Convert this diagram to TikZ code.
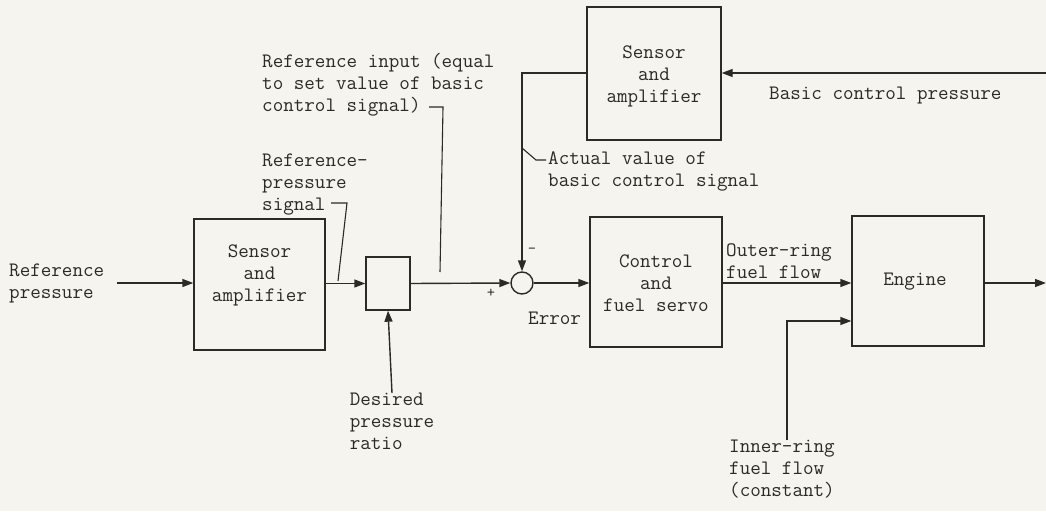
\documentclass[tikz,border=0pt]{standalone}
\usetikzlibrary{arrows.meta}
\definecolor{paper}{RGB}{246,244,238}
\definecolor{ink}{RGB}{45,42,38}
\tikzset{
  txt/.style={font=\ttfamily\fontsize{20.5}{22}\selectfont, inner sep=0pt, align=left, text=ink},
  ctxt/.style={font=\ttfamily\fontsize{20.5}{22}\selectfont, inner sep=0pt, align=center, text=ink},
  blk/.style={draw=ink, line width=1.4pt, inner sep=0pt},
  sig/.style={draw=ink, line width=1.4pt, -{Triangle[length=11pt,width=8pt]}},
  lead/.style={draw=ink, line width=1.1pt},
}
\begin{document}
\begin{tikzpicture}[x=1pt,y=-1pt]
\fill[paper] (0,0) rectangle (1046,511);
\useasboundingbox (0,0) rectangle (1046,511);
% blocks
\node[blk, minimum width=131pt, minimum height=131pt] (sa1) at (259.5,284.5) {};
\node[ctxt] at (259.5,275) {Sensor\\and\\amplifier};
\node[blk, minimum width=44pt, minimum height=53pt] (sm) at (388,283.5) {};
\node[blk, circle, minimum size=22pt] (sum) at (522,283) {};
\node[blk, minimum width=134pt, minimum height=133pt] (sa2) at (654,73.5) {};
\node[ctxt] at (654,76) {Sensor\\and\\amplifier};
\node[blk, minimum width=132pt, minimum height=130pt] (ctrl) at (656,282) {};
\node[ctxt] at (656,283) {Control\\and\\fuel servo};
\node[blk, minimum width=132pt, minimum height=130pt] (eng) at (918,281) {};
\node[ctxt] at (915,282) {Engine};
% texts
\node[txt, anchor=west] (refp) at (9,283) {Reference\\pressure};
\node[txt, anchor=north] (des) at (392,393) {Desired\\pressure\\ratio};
\node[txt, anchor=north west] (inner) at (729,440) {Inner-ring\\fuel flow\\(constant)};
\node[txt, anchor=west] (bcp) at (769,96) {Basic control pressure};
\node[txt, anchor=west] (rps) at (262,185) {Reference-\\pressure\\signal};
\node[txt, anchor=west] (rin) at (262,85) {Reference input (equal\\to set value of basic\\control signal)};
\node[txt, anchor=west] (act) at (548,171) {Actual value of\\basic control signal};
\node[txt, anchor=south west] (orf) at (726,279) {Outer-ring\\fuel flow};
\node[txt, anchor=west] (err) at (528,318) {Error};
\node[font=\ttfamily\fontsize{16}{16}\selectfont, inner sep=0pt, text=ink] (plus) at (491,293) {+};
\node[font=\ttfamily\fontsize{16}{16}\selectfont, inner sep=0pt, text=ink] (minus) at (532,251) {-};
% coordinates
\coordinate (cin) at (1046,73);
\coordinate (cout) at (1046,283);
\coordinate (fbk) at (522,73);
\coordinate (ifc) at (787,321);
\coordinate (rin0) at (117,283);
% signal paths
\draw[sig] (rin0) -- (sa1.west |- rin0);
\draw[sig] (sa1.east |- sm.west) -- (sm.west);
\draw[sig] (sm.east) -- (sum.west);
\draw[sig] (des.north) -- (sm.south);
\draw[sig] (sum.east) -- (ctrl.west |- sum.east);
\draw[sig] (ctrl.east |- sum.east) -- (eng.west |- sum.east);
\draw[sig] (inner.north -| ifc) -- (ifc) -- (eng.west |- ifc);
\draw[sig] (eng.east |- cout) -- (cout);
\draw[sig] (cin) -- (sa2.east |- cin);
\draw[sig] (sa2.west |- fbk) -- (fbk) -- (sum.north);
% leaders
\draw[lead] (331,203) -- (347,203) -- (338,281);
\draw[lead] (429,107) -- (443,107) -- (440,272);
\draw[lead] (522,148) -- (536,160) -- (546,160);
\end{tikzpicture}
\end{document}
